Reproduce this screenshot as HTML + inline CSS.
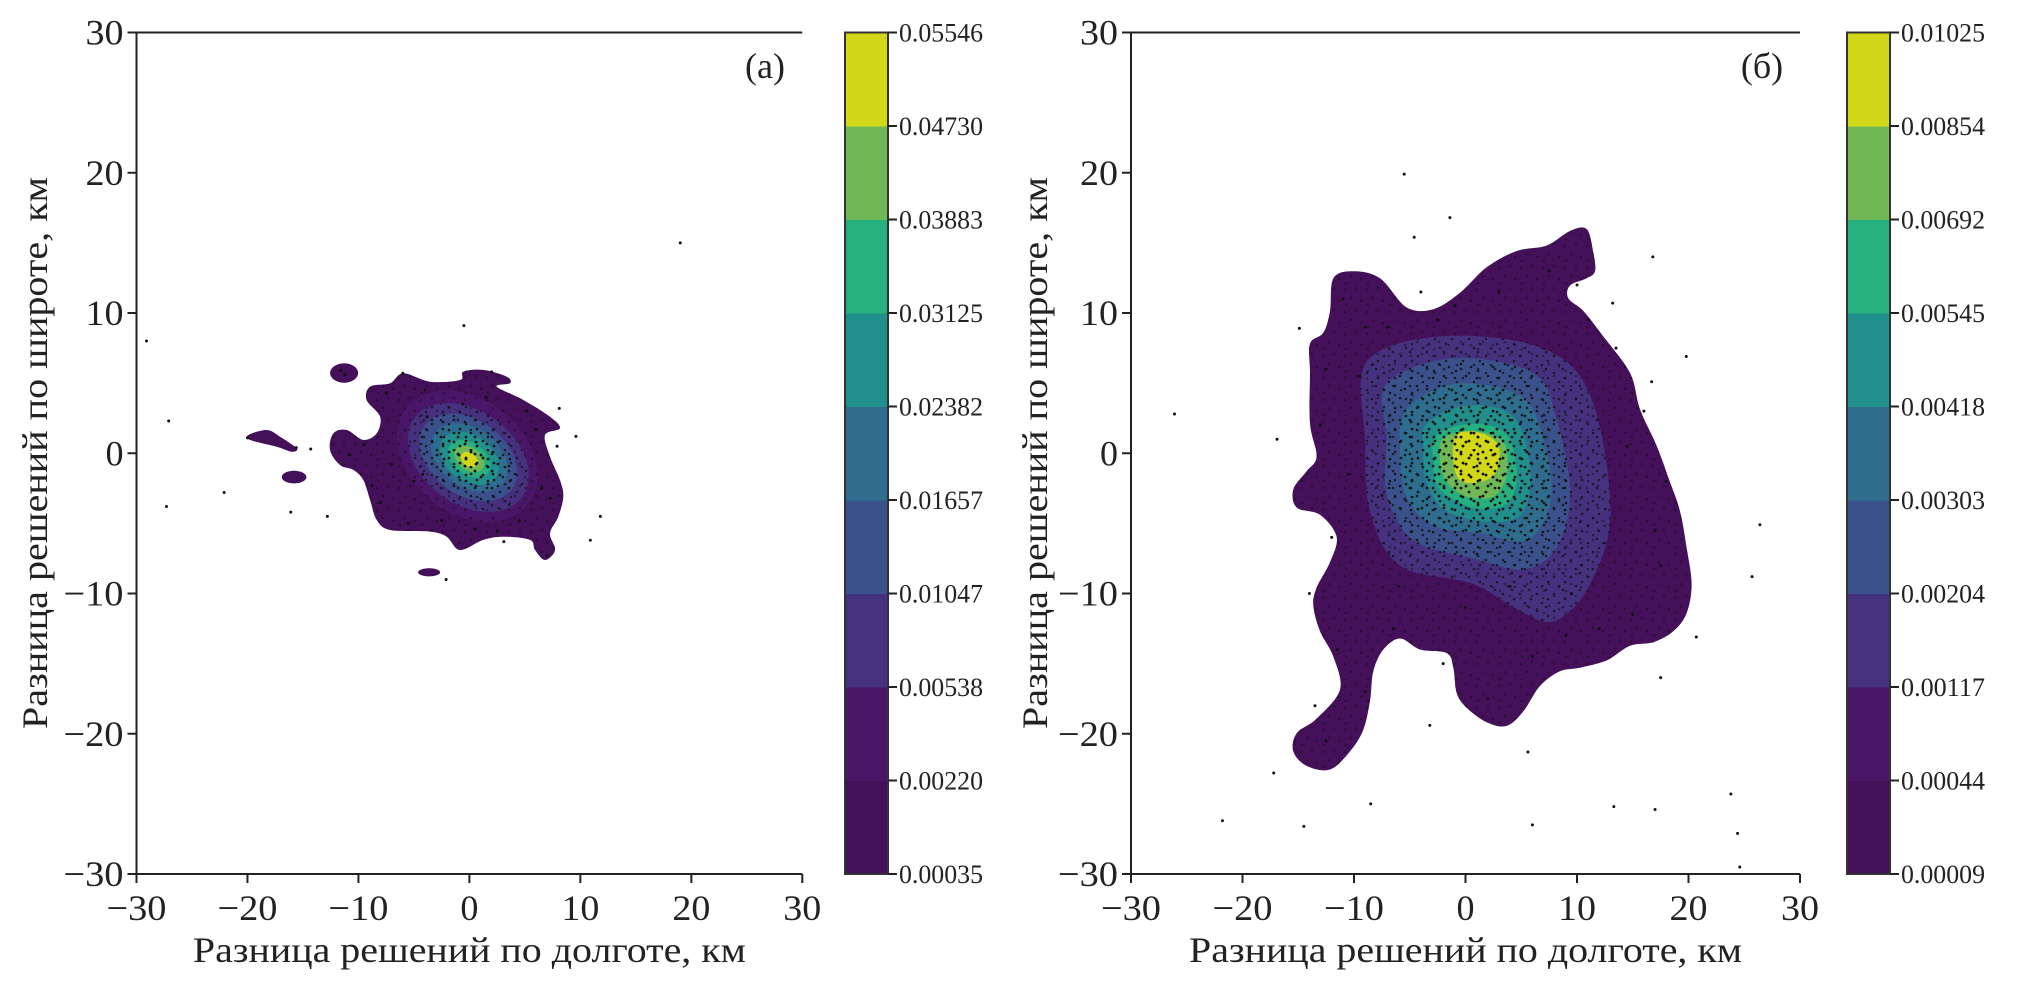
<!DOCTYPE html>
<html><head><meta charset="utf-8"><style>
html,body{margin:0;padding:0;background:#fff;}
svg{display:block;font-family:"Liberation Serif",serif;}
</style></head><body>
<svg id="chart" width="2039" height="985" viewBox="0 0 2039 985" xmlns="http://www.w3.org/2000/svg">
<defs>
<pattern id="dotsA" width="22" height="22" patternUnits="userSpaceOnUse">
<circle cx="3" cy="4" r="1.3" fill="#111"/><circle cx="14" cy="2" r="1.3" fill="#111"/><circle cx="9" cy="12" r="1.3" fill="#111"/><circle cx="19" cy="15" r="1.3" fill="#111"/><circle cx="4" cy="19" r="1.3" fill="#111"/>
</pattern>
<pattern id="dotsB" width="17" height="17" patternUnits="userSpaceOnUse" patternTransform="translate(5,7)">
<circle cx="2" cy="9" r="1.3" fill="#111"/><circle cx="11" cy="5" r="1.3" fill="#111"/><circle cx="13" cy="14" r="1.3" fill="#111"/><circle cx="7" cy="1" r="1.3" fill="#111"/>
</pattern>
</defs>
<g id="root"></g>
</svg>
<script>
// ---- data ----
const xTicks = [-30,-20,-10,0,10,20,30];
const yTicks = [-30,-20,-10,0,10,20,30];
const colors = ["#45105a","#4a1667","#46317e","#3b518b","#2e6d8e","#21908d","#27b07f","#70b855","#d2d717"];
const levelsA = ["0.00035","0.00220","0.00538","0.01047","0.01657","0.02382","0.03125","0.03883","0.04730","0.05546"];
const levelsB = ["0.00009","0.00044","0.00117","0.00204","0.00303","0.00418","0.00545","0.00692","0.00854","0.01025"];

// panel (a) outer contour (km)
const outerA = [[-5.95,5.70],[-3.55,5.10],[-0.85,5.22],[-0.55,5.82],[1.25,5.94],[3.36,5.46],[3.66,4.99],[2.46,4.75],[4.86,3.80],[7.26,2.60],[8.16,1.78],[6.81,1.30],[7.26,-0.24],[8.16,-1.91],[8.46,-3.10],[8.01,-4.52],[7.26,-5.71],[7.72,-6.90],[6.81,-7.61],[5.91,-6.90],[5.46,-6.18],[3.06,-5.95],[1.25,-6.18],[-0.85,-6.90],[-2.05,-5.95],[-3.55,-5.59],[-7.15,-5.47],[-8.35,-4.76],[-8.95,-3.33],[-9.56,-1.91],[-10.46,-1.19],[-11.66,-0.84],[-12.56,0.23],[-12.26,1.42],[-11.06,1.66],[-9.56,0.95],[-8.35,1.42],[-8.05,2.61],[-9.26,3.80],[-8.95,4.75],[-7.15,4.99]];
const islandA = [[-19.92,1.30],[-18.27,1.66],[-17.07,1.18],[-15.57,0.35],[-16.02,0.11],[-17.37,0.47],[-19.77,0.95]];
// small ellipses: cx, cy, rx, ry (km)
const ellipsesA = [[-11.29,5.72,1.26,0.69],[-15.80,-1.70,1.11,0.45],[-3.63,-8.49,0.99,0.29]];
// inner levels (a): semi-axes a,b (km), band index 1..8
const innerAa = [6.6,5.7,4.6,3.6,2.8,2.0,1.4,0.8];
const innerAb = [4.3,3.5,2.8,2.2,1.7,1.2,0.85,0.5];
const innerAcx = [-0.2,-0.1,-0.1,0,0,0,0,0];
const innerAcy = [-0.2,-0.3,-0.3,-0.3,-0.35,-0.4,-0.4,-0.45];

// panel (b) outer contour (km)
const outerB = [[-11.85,12.48],[-10.06,12.98],[-7.67,12.48],[-5.28,10.40],[-2.88,10.27],[-0.49,11.44],[1.90,13.26],[4.59,14.42],[7.28,14.81],[9.37,15.85],[10.87,15.98],[11.47,14.29],[11.61,12.98],[10.87,12.48],[9.37,11.96],[9.22,11.05],[10.57,10.14],[12.36,8.33],[14.75,5.73],[15.65,3.14],[17.14,0.54],[18.34,-2.05],[19.24,-4.13],[19.83,-6.73],[20.28,-9.32],[19.83,-11.40],[18.64,-12.69],[16.85,-13.47],[14.75,-13.73],[12.66,-14.77],[10.27,-15.29],[8.47,-15.55],[6.68,-16.59],[5.19,-18.40],[3.69,-19.44],[1.90,-19.18],[0.10,-18.14],[-0.79,-17.10],[-1.09,-15.29],[-1.69,-14.25],[-4.08,-13.99],[-5.87,-13.21],[-7.37,-13.99],[-8.27,-15.55],[-8.56,-17.62],[-9.16,-19.70],[-10.36,-21.26],[-12.15,-22.55],[-14.25,-22.29],[-15.44,-21.26],[-15.14,-19.96],[-13.35,-18.92],[-11.26,-16.85],[-11.85,-14.51],[-13.05,-12.69],[-13.65,-10.88],[-13.35,-9.58],[-12.15,-7.76],[-11.56,-5.95],[-13.05,-4.39],[-15.14,-3.87],[-15.44,-2.57],[-14.25,-1.28],[-13.35,-0.24],[-13.95,2.10],[-13.95,5.73],[-13.95,7.81],[-12.75,8.59],[-12.15,10.14]];
const levelB2 = [[-8.86,6.51],[-2.29,8.33],[6.68,7.55],[11.17,4.17],[13.0,-4.13],[11.17,-9.32],[8.18,-11.92],[5.19,-11.40],[0.70,-9.32],[-5.87,-8.02],[-8.56,-4.13],[-9.01,1.06]];
const levelB3 = [[-7.07,4.95],[-1.09,6.77],[6.08,5.73],[8.18,2.36],[9.37,-2.83],[8.18,-6.73],[5.19,-8.28],[0.70,-7.50],[-4.68,-6.21],[-7.07,-2.83],[-7.07,1.06]];
const levelB4 = [[-5.28,3.14],[-0.79,4.95],[5.19,3.91],[7.28,0.02],[7.58,-3.61],[5.49,-6.21],[1.30,-5.69],[-2.89,-5.17],[-5.28,-3.09],[-5.87,0.02]];
const levelB5 = [[-3.48,2.10],[0.10,3.40],[4.29,2.62],[5.79,-1.02],[5.19,-4.13],[2.50,-4.91],[-1.69,-4.13],[-3.48,-2.05],[-3.78,0.28]];
const levelB6 = [[-2.59,1.32],[0.70,2.10],[3.69,1.32],[4.59,-1.54],[3.69,-3.61],[0.70,-3.87],[-2.29,-2.57],[-2.89,-0.50]];
const levelB7 = [[-1.99,1.06],[0.70,1.58],[3.39,0.80],[3.69,-1.54],[2.50,-3.09],[0.10,-3.09],[-1.69,-2.05],[-2.29,-0.50]];
const levelB8 = [[-0.79,1.32],[1.30,1.45],[2.94,0.54],[2.79,-1.28],[1.30,-2.05],[-0.49,-1.92],[-1.09,-0.50]];

// scatter points (km)
const ptsAx = [-29.1,-27.1,-27.3,-22.1,-16.1,-12.8,-0.5,19.0,8.1,9.6,11.8,10.9,-2.1,-14.3,-20.0,-11.6,-11.2,-6.0,-4.0,-3.8,-7.5,-9.5,-10.8,-8.0,-5.5,3.1,2.0,6.0,7.3,7.0,-5.0,-2.5,0.5,2.5,4.5,6.5,-7.0,-8.8,5.2,-0.6,1.5,-4.2,7.9,-15.6];
const ptsAy = [8.0,2.3,-3.8,-2.8,-4.2,-4.5,9.1,15.0,3.2,1.2,-4.5,-6.2,-9.0,0.3,1.1,5.9,5.6,5.7,4.5,2.6,4.3,0.6,-0.1,-3.5,-5.0,-6.3,5.8,1.7,-3.2,-7.3,-2.0,-4.8,-5.4,-5.6,-4.8,-2.5,-0.8,-2.3,3.0,3.5,4.0,-1.5,0.5,0.4];
const ptsBx = [-5.5,-1.4,-4.6,16.8,13.2,19.8,16.7,-26.1,-14.9,26.4,25.7,20.7,17.5,-17.2,-21.8,-14.5,-8.5,-3.2,5.6,6.0,13.3,17.0,23.8,24.4,24.6,-16.9,-11.0,-9.0,-12.5,-13.0,-10.5,-12.0,-14.0,-11.5,-9.0,-6.5,-2.0,2.0,6.0,9.0,12.0,15.0,17.5,18.0,16.0,13.5,10.0,7.5,3.0,-1.0,-4.0,-7.0,-9.5,-12.5,-13.5,-6.0,0.0,4.0,9.5,11.0,-2.5,-7.5,14.5,17.0];
const ptsBy = [19.9,16.8,15.4,14.0,10.7,6.9,5.1,2.8,8.9,-5.1,-8.8,-13.1,-16.0,-22.8,-26.2,-26.6,-25.0,-19.4,-21.3,-26.5,-25.2,-25.4,-24.3,-27.1,-29.5,1.0,11.0,9.0,6.0,2.0,-1.5,-6.0,-10.0,-14.0,-17.0,-12.5,-15.0,-17.5,-14.5,-13.0,-12.5,-11.5,-8.0,-2.0,3.0,7.5,12.0,13.0,11.5,10.5,11.5,9.0,5.5,-20.5,-18.0,-9.5,-11.0,-9.5,-10.0,9.5,9.5,-3.0,0.5,-5.5];

// ---- layout ----
const svg = document.getElementById('root');
const NS = 'http://www.w3.org/2000/svg';
function el(tag, attrs, parent){ const e=document.createElementNS(NS,tag); for(const k in attrs) e.setAttribute(k,attrs[k]); (parent||svg).appendChild(e); return e; }

const panels = [
 {id:'a', x0:136.5, x1:802.3, y0:874, y1:32.5, cbx:845, label:'(а)', lx:765, levels:levelsA, ytitleX:36},
 {id:'b', x0:1131, x1:1800, y0:874, y1:32.5, cbx:1847, label:'(б)', lx:1762, levels:levelsB, ytitleX:1036}
];
panels.forEach(p=>{
  p.sx = v => p.x0 + (v+30)/60*(p.x1-p.x0);
  p.sy = v => p.y0 - (v+30)/60*(p.y0-p.y1);
});

function smoothPath(p, pts){
  const P = pts.map(q=>[p.sx(q[0]), p.sy(q[1])]);
  const n=P.length; let d='M'+P[0][0].toFixed(1)+','+P[0][1].toFixed(1);
  for(let i=0;i<n;i++){
    const p0=P[(i-1+n)%n], p1=P[i], p2=P[(i+1)%n], p3=P[(i+2)%n];
    const c1=[p1[0]+(p2[0]-p0[0])/6, p1[1]+(p2[1]-p0[1])/6];
    const c2=[p2[0]-(p3[0]-p1[0])/6, p2[1]-(p3[1]-p1[1])/6];
    d+=' C'+c1[0].toFixed(1)+','+c1[1].toFixed(1)+' '+c2[0].toFixed(1)+','+c2[1].toFixed(1)+' '+p2[0].toFixed(1)+','+p2[1].toFixed(1);
  }
  return d+'Z';
}
function ellipsePath(p, cx, cy, a, b, angDeg){
  const t=angDeg*Math.PI/180; const pts=[];
  for(let i=0;i<36;i++){ const u=i/36*2*Math.PI; const ex=a*Math.cos(u), ey=b*Math.sin(u);
    pts.push([cx+ex*Math.cos(t)-ey*Math.sin(t), cy+ex*Math.sin(t)+ey*Math.cos(t)]); }
  return smoothPath(p, pts);
}

panels.forEach(p=>{
  const g = el('g',{});
  
  
  const fills = el('g',{},g);
  
  
  const regions=[];
  function addRegion(d, band, name){
    const e=el('path',{d:d, fill:colors[band]},fills);
    
    
    return d;
  }
  if(p.id==='a'){
    regions.push(addRegion(smoothPath(p,outerA),0,'contour-outer'));
    addRegion(smoothPath(p,islandA),0,'contour-island');
    ellipsesA.forEach((e,i)=>addRegion(ellipsePath(p,e[0],e[1],e[2],e[3],0),0,'contour-islet-'+i));
    innerAa.forEach((a,i)=>{ const d=addRegion(ellipsePath(p,innerAcx[i],innerAcy[i],a,innerAb[i],-22),i+1,'contour-level-'+(i+1)); if(i>0) regions.push(d); });
  } else {
    regions.push(addRegion(smoothPath(p,outerB),0,'contour-outer'));
    const lv=[levelB2,levelB3,levelB4,levelB5,levelB6,levelB7,levelB8];
    lv.forEach((L,i)=>{ const d=addRegion(smoothPath(p,L),i+2,'contour-level-'+(i+2)); regions.push(d); });
  }
  // dense scatter overlays
  const sc = el('g',{},g);
  
  
  regions.forEach((d,i)=>{
    const e=el('path',{d:d, fill:(i%2?'url(#dotsB)':'url(#dotsA)'), opacity:(i===0?0.5:0.75)},sc);
    
    
  });
  const xs = p.id==='a'?ptsAx:ptsBx, ys = p.id==='a'?ptsAy:ptsBy;
  xs.forEach((x,i)=>{
    const c=el('circle',{cx:p.sx(x),cy:p.sy(ys[i]),r:1.5,fill:'#111'},sc);
    
    
  });
  // axes
  const ax=el('g',{stroke:'#222','stroke-width':2,fill:'none'},g);
  
  
  el('path',{d:`M${p.x0},${p.y0}V${p.y1}H${p.x1}M${p.x0},${p.y0}H${p.x1}`},ax);
  xTicks.forEach(t=>{
    el('line',{x1:p.sx(t),x2:p.sx(t),y1:p.y0,y2:p.y0+9},ax);
    const tx=el('text',{x:p.sx(t),y:p.y0+46,'font-size':36,'text-anchor':'middle',fill:'#222',stroke:'none',textLength:(t===0?18:(t<0?60:38)),lengthAdjust:'spacingAndGlyphs'},g);
    tx.textContent = t<0 ? '\u2212'+Math.abs(t) : String(t);
    
    
  });
  yTicks.forEach(t=>{
    el('line',{x1:p.x0-9,x2:p.x0,y1:p.sy(t),y2:p.sy(t)},ax);
    const tx=el('text',{x:p.x0-13,y:p.sy(t)+12,'font-size':36,'text-anchor':'end',fill:'#222',stroke:'none',textLength:(t===0?18:(t<0?60:38)),lengthAdjust:'spacingAndGlyphs'},g);
    tx.textContent = t<0 ? '\u2212'+Math.abs(t) : String(t);
    
    
  });
  const xt=el('text',{x:(p.x0+p.x1)/2,y:962,'font-size':36,'text-anchor':'middle',fill:'#222',textLength:553,lengthAdjust:'spacingAndGlyphs'},g);
  xt.textContent='Разница решений по долготе, км';
  
  
  const yt=el('text',{x:0,y:0,'font-size':36,'text-anchor':'middle',fill:'#222',textLength:552,lengthAdjust:'spacingAndGlyphs',transform:`translate(${p.ytitleX+11},453) rotate(-90)`},g);
  yt.textContent='Разница решений по широте, км';
  
  
  const lb=el('text',{x:p.lx,y:78,'font-size':36,'text-anchor':'middle',fill:'#222'},g);
  lb.textContent=p.label;
  
  
  // colorbar
  const cb=el('g',{},g);
  
  
  const nb=colors.length, h=(p.y0-p.y1)/nb, w=43;
  colors.forEach((c,i)=>{
    const r=el('rect',{x:p.cbx,y:p.y0-(i+1)*h,width:w,height:h+0.5,fill:c},cb);
    
    
  });
  el('rect',{x:p.cbx,y:p.y1,width:w,height:p.y0-p.y1,fill:'none',stroke:'#333','stroke-width':2},cb);
  p.levels.forEach((L,i)=>{
    const y=p.y0-i*h;
    el('line',{x1:p.cbx+w,x2:p.cbx+w+9,y1:y,y2:y,stroke:'#222','stroke-width':2},cb);
    const t=el('text',{x:p.cbx+w+11,y:y+9,'font-size':26,fill:'#222',textLength:84,lengthAdjust:'spacingAndGlyphs'},cb);
    t.textContent=L;
    
    
  });
});
</script>
</body></html>
